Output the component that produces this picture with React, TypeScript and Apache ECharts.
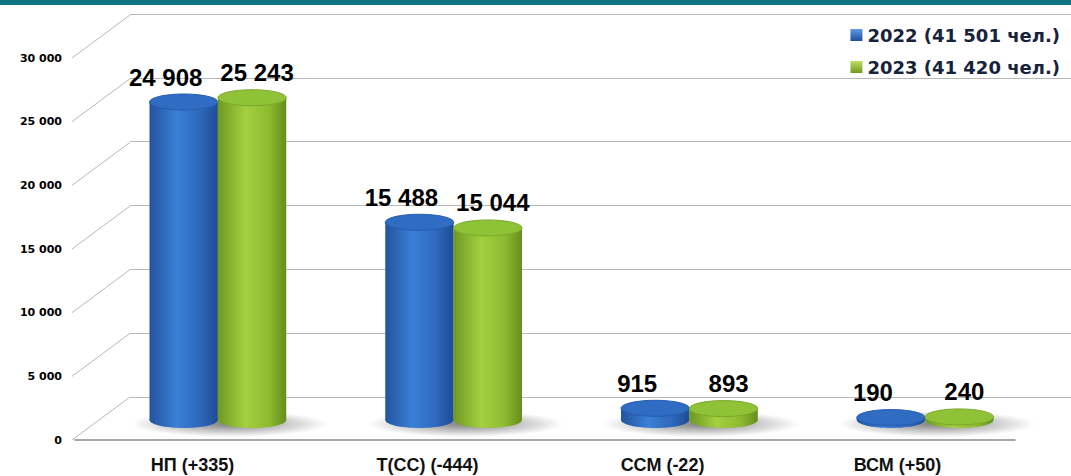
import React, { useEffect, useRef } from "react";
import * as echarts from "echarts";

const categories = ["НП (+335)", "Т(СС) (-444)", "ССМ (-22)", "ВСМ (+50)"];
const seriesNames = ["2022 (41 501 чел.)", "2023 (41 420 чел.)"];
const values2022 = [24908, 15488, 915, 190];
const values2023 = [25243, 15044, 893, 240];
const yTicks = [0, 5000, 10000, 15000, 20000, 25000, 30000];
const yMin = 0;
const yMax = 30000;
const yInterval = 5000;

const W = 1071;
const H = 476;
// perspective layout (pixels)
const BACK = { left: 130, top: 14, bottom: 397, right: W };
const FRONT = { left: 75, top: 58, bottom: 440, right: 1015 };
const MID = { left: 100, top: 37, bottom: 420, right: 1043 };

const fmt = (v: number) => String(v).replace(/\B(?=(\d{3})+(?!\d))/g, " ");

const BLUE = {
  body: ["#23539f", "#3a80d6", "#2d68bb", "#1f4b93"],
  top: "#2f6cc2",
  topEdge: "#255bb0",
};
const GREEN = {
  body: ["#6f9822", "#a2d040", "#8cbb30", "#658d1d"],
  top: "#8fc236",
  topEdge: "#7aa82a",
};

function bodyGradient(c: string[]) {
  return new echarts.graphic.LinearGradient(0, 0, 1, 0, [
    { offset: 0, color: c[0] },
    { offset: 0.4, color: c[1] },
    { offset: 0.75, color: c[2] },
    { offset: 1, color: c[3] },
  ]);
}

function makeCylinder(side: number, pal: typeof BLUE, labelDx: number) {
  return (params: any, api: any) => {
    const idx = api.value(0);
    const val = api.value(1);
    const top = api.coord([idx, val]);
    const base = api.coord([idx, 0]);
    const band = api.size([1, 0])[0];
    const w = band * 0.29;
    const rx = w / 2;
    const ry = 8;
    const cx = top[0] + side * rx;
    const grad = bodyGradient(pal.body);
    return {
      type: "group",
      children: [
        {
          type: "ellipse",
          shape: { cx, cy: base[1], rx, ry },
          style: { fill: grad },
        },
        {
          type: "rect",
          shape: { x: cx - rx, y: top[1], width: w, height: Math.max(0, base[1] - top[1]) },
          style: { fill: grad },
        },
        {
          type: "ellipse",
          shape: { cx, cy: top[1], rx, ry },
          style: { fill: pal.top, stroke: pal.topEdge, lineWidth: 1 },
        },
        {
          type: "text",
          style: {
            text: fmt(val),
            x: cx + labelDx,
            y: top[1] - 25,
            align: "center",
            verticalAlign: "middle",
            font: 'bold 24px "Liberation Sans", Arial, sans-serif',
            fill: "#000000",
          },
        },
      ],
    };
  };
}

export default function App() {
  const ref = useRef<HTMLDivElement>(null);
  useEffect(() => {
    if (!ref.current) return;
    const chart = echarts.init(ref.current, null, { renderer: "svg" });
    const axisFont = '"DejaVu Sans", sans-serif';
    const option: any = {
      animation: false,
      backgroundColor: "#ffffff",
      graphic: [
        {
          type: "rect",
          shape: { x: 0, y: 0, width: W, height: 5 },
          style: { fill: "#0e7480" },
          silent: true,
        },
      ],
      legend: {
        orient: "vertical",
        right: 6,
        top: 20,
        itemWidth: 12,
        itemHeight: 12,
        itemGap: 12,
        icon: "rect",
        textStyle: {
          fontFamily: axisFont,
          fontWeight: "bold",
          fontSize: 18,
          color: "#17223b",
          lineHeight: 20,
        },
        data: [
          {
            name: seriesNames[0],
            itemStyle: {
              color: new echarts.graphic.LinearGradient(0, 0, 0, 1, [
                { offset: 0, color: "#5b9be6" },
                { offset: 1, color: "#1f4f9e" },
              ]),
            },
          },
          {
            name: seriesNames[1],
            itemStyle: {
              color: new echarts.graphic.LinearGradient(0, 0, 0, 1, [
                { offset: 0, color: "#bde060" },
                { offset: 1, color: "#6f9a22" },
              ]),
            },
          },
        ],
      },
      grid: [
        {
          left: BACK.left,
          top: BACK.top,
          width: BACK.right - BACK.left,
          height: BACK.bottom - BACK.top,
        },
        {
          left: FRONT.left,
          top: FRONT.top,
          width: FRONT.right - FRONT.left,
          height: FRONT.bottom - FRONT.top,
        },
        {
          left: MID.left,
          top: MID.top,
          width: MID.right - MID.left,
          height: MID.bottom - MID.top,
        },
      ],
      xAxis: [
        {
          type: "category",
          gridIndex: 0,
          data: categories,
          show: false,
        },
        {
          type: "category",
          gridIndex: 1,
          data: categories,
          axisTick: { show: false },
          axisLine: { show: true, lineStyle: { color: "#8c8c8c", width: 1.5 } },
          axisLabel: {
            margin: 16,
            fontFamily: '"Liberation Sans", Arial, sans-serif',
            fontWeight: "bold",
            fontSize: 18,
            color: "#111111",
          },
        },
        {
          type: "category",
          gridIndex: 2,
          data: categories,
          show: false,
        },
      ],
      yAxis: [
        {
          type: "value",
          gridIndex: 0,
          min: yMin,
          max: yMax,
          interval: yInterval,
          axisLabel: { show: false },
          axisLine: { show: false },
          axisTick: { show: false },
          splitLine: { show: true, lineStyle: { color: "#b8b8b8", width: 1 } },
        },
        {
          type: "value",
          gridIndex: 1,
          min: yMin,
          max: yMax,
          interval: yInterval,
          axisLine: { show: false },
          axisTick: { show: false },
          splitLine: { show: false },
          axisLabel: {
            margin: 13,
            fontFamily: axisFont,
            fontWeight: "bold",
            fontSize: 11,
            color: "#000000",
            formatter: (v: number) => fmt(v),
          },
        },
        {
          type: "value",
          gridIndex: 2,
          min: yMin,
          max: yMax,
          show: false,
          splitLine: { show: false },
        },
      ],
      series: [
        {
          type: "custom",
          name: "walls",
          xAxisIndex: 1,
          yAxisIndex: 1,
          silent: true,
          z: 1,
          data: yTicks.map((v) => [0, v]),
          renderItem: (params: any, api: any) => {
            const p = api.coord([0, api.value(1)]);
            const x0 = params.coordSys.x - 3;
            const dy = FRONT.bottom - BACK.bottom;
            return {
              type: "line",
              shape: { x1: x0, y1: p[1], x2: BACK.left, y2: p[1] - dy },
              style: { stroke: "#b8b8b8", lineWidth: 1 },
            };
          },
        },
        {
          type: "custom",
          name: "shadows",
          xAxisIndex: 2,
          yAxisIndex: 2,
          silent: true,
          z: 2,
          data: categories.map((_, i) => [i, 0]),
          renderItem: (params: any, api: any) => {
            const base = api.coord([api.value(0), 0]);
            const band = api.size([1, 0])[0];
            const w = band * 0.29;
            return {
              type: "ellipse",
              shape: { cx: base[0] + 12, cy: base[1] + 4, rx: w + 30, ry: 13 },
              style: {
                fill: new echarts.graphic.RadialGradient(0.5, 0.5, 0.5, [
                  { offset: 0, color: "rgba(0,0,0,0.5)" },
                  { offset: 0.6, color: "rgba(0,0,0,0.2)" },
                  { offset: 1, color: "rgba(0,0,0,0)" },
                ]),
              },
            };
          },
        },
        {
          type: "custom",
          name: seriesNames[0],
          xAxisIndex: 2,
          yAxisIndex: 2,
          z: 3,
          itemStyle: { color: "#2f6cc2" },
          data: values2022.map((v, i) => [i, v]),
          renderItem: makeCylinder(-1, BLUE, -18),
        },
        {
          type: "custom",
          name: seriesNames[1],
          xAxisIndex: 2,
          yAxisIndex: 2,
          z: 4,
          itemStyle: { color: "#8fc236" },
          data: values2023.map((v, i) => [i, v]),
          renderItem: makeCylinder(1, GREEN, 5),
        },
      ],
    };
    chart.setOption(option);
    return () => chart.dispose();
  }, []);
  return (
    <div
      ref={ref}
      style={{ position: "absolute", left: 0, top: 0, width: W, height: H }}
    />
  );
}
